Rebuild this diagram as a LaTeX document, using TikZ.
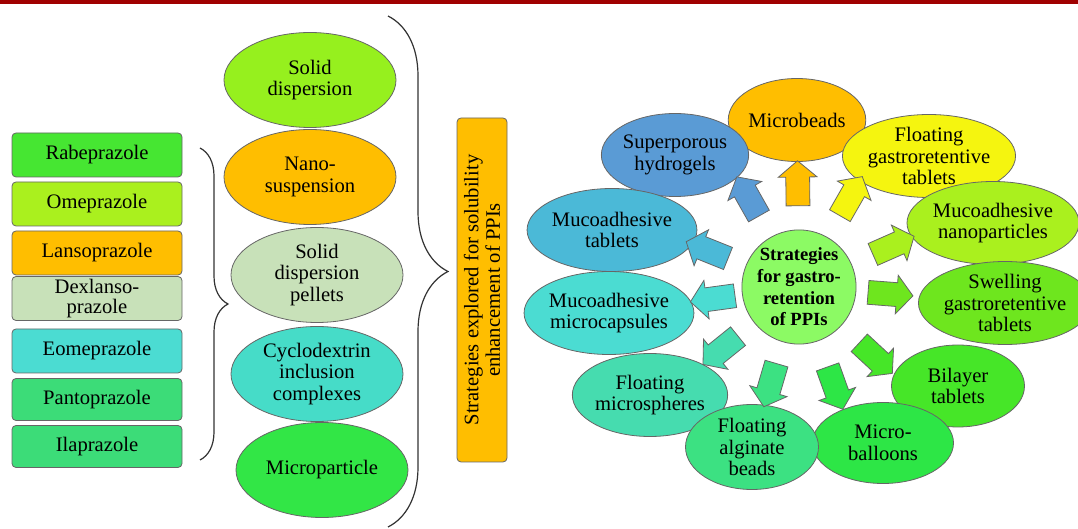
\documentclass[tikz,border=0pt]{standalone}
\usepackage{fontspec}
\setmainfont{Liberation Serif}
\newfontfamily\timesface{Liberation Serif}
\usetikzlibrary{positioning,shapes.geometric,shapes.arrows,decorations.pathreplacing}

\definecolor{topred}{RGB}{160,0,0}
\definecolor{rabeC}{RGB}{70,230,50}
\definecolor{omeC}{RGB}{170,240,30}
\definecolor{lansoC}{RGB}{255,190,0}
\definecolor{dexC}{RGB}{200,225,185}
\definecolor{eomeC}{RGB}{75,220,210}
\definecolor{pantoC}{RGB}{60,220,120}
\definecolor{sdC}{RGB}{150,240,30}
\definecolor{cdC}{RGB}{70,220,200}
\definecolor{mpC}{RGB}{50,230,70}
\definecolor{hubC}{RGB}{140,250,100}
\definecolor{shC}{RGB}{90,155,213}
\definecolor{fgC}{RGB}{245,245,15}
\definecolor{mtC}{RGB}{75,185,215}
\definecolor{sgC}{RGB}{110,230,30}
\definecolor{fmC}{RGB}{70,220,175}
\definecolor{faC}{RGB}{60,225,130}
\definecolor{mbaC}{RGB}{45,230,70}
\definecolor{blC}{RGB}{70,230,40}

\begin{document}
\begin{tikzpicture}[x=0.5pt,y=-0.5pt,font=\timesface\fontsize{10.3}{10.8}\selectfont,node distance=24.5pt]
\tikzstyle{drug} = [rectangle, rounded corners=2pt, draw=black!60,
    minimum width=85pt, minimum height=22pt, align=center, inner sep=0pt]
\tikzstyle{solub} = [ellipse, draw=black!60, minimum width=86pt,
    minimum height=47.5pt, align=center, inner sep=0pt]
\tikzstyle{gastro} = [ellipse, draw=black!60, minimum height=41.5pt,
    align=center, inner sep=0pt]
\tikzstyle{fatarrow} = [single arrow, draw=black!60, single arrow head extend=3.75pt,
    single arrow tip angle=100, minimum height=22.5pt,
    inner sep=0pt, sloped, allow upside down]
\tikzstyle{bracket} = [decorate, draw=black!80, line width=0.6pt]
\newcommand{\shaft}{\rule{0pt}{11.5pt}}

\useasboundingbox (0,0) rectangle (1078,529);
\fill[topred] (0,0) rectangle (1078,4);

\node[drug, fill=rabeC] (rabe) at (97,155) {Rabeprazole};
\node[drug, fill=omeC, below of=rabe] (ome) {Omeprazole};
\node[drug, fill=lansoC, below of=ome] (lanso) {Lansoprazole};
\node[drug, fill=dexC, below of=lanso, node distance=22.75pt] (dexlanso) {Dexlanso-\\[-1pt]prazole};
\node[drug, fill=eomeC, below of=dexlanso, node distance=26.25pt] (eome) {Eomeprazole};
\node[drug, fill=pantoC, below of=eome, node distance=24.25pt, minimum height=21pt] (panto) {Pantoprazole};
\node[drug, fill=pantoC, below of=panto, node distance=23.5pt, minimum height=21pt] (ila) {Ilaprazole};

\coordinate (lbtop) at (200,148);
\coordinate (lbbot) at (200,460);
\draw[bracket, decoration={brace, amplitude=14pt}] (lbtop) -- (lbbot);

\node[solub, fill=sdC] (sd) at (310,80) {Solid\\dispersion};
\node[solub, fill=lansoC, below of=sd, node distance=48.5pt] (ns) {Nano-\\suspension};
\node[solub, fill=dexC, below of=ns, node distance=49pt, xshift=3.5pt] (sdp) {Solid\\dispersion\\pellets};
\node[solub, fill=cdC, below of=sdp, node distance=49.5pt] (cd) {Cyclodextrin\\inclusion\\complexes};
\node[solub, fill=mpC, below of=cd, node distance=48pt, xshift=2.5pt] (mp) {Microparticle};

\coordinate (bbtop) at (388,16);
\coordinate (bbbot) at (388,527);
\draw[bracket, decoration={brace, amplitude=30pt}] (bbtop) -- (bbbot);

\node[rectangle, rounded corners=2pt, draw=black!60, fill=lansoC, rotate=90,
    minimum width=172pt, minimum height=25pt, align=center, inner sep=0pt]
    (solbox) at (482,290) {Strategies explored for solubility\\enhancement of PPIs};

\node[circle, draw=black!60, fill=hubC, minimum size=57pt, inner sep=0pt, align=center,
    font=\timesface\fontsize{9.3}{10.8}\selectfont\bfseries] (hub) at (799,287)
    {Strategies\\for gastro-\\retention\\of PPIs};

\node[gastro, fill=lansoC, minimum width=67.5pt] (mb) at (797,120) {Microbeads};
\node[gastro, fill=shC, minimum width=67pt] (sh) at (675,155) {Superporous\\hydrogels};
\node[gastro, fill=fgC, minimum width=76.5pt] (fg) at (929,156) {Floating\\gastroretentive\\tablets};
\node[gastro, fill=mtC, minimum width=76pt] (mt) at (612,230) {Mucoadhesive\\tablets};
\node[gastro, fill=omeC, minimum width=86pt] (mn) at (993,223) {Mucoadhesive\\nanoparticles};
\node[gastro, fill=sgC, minimum width=82.5pt] (sg) at (1005,303) {Swelling\\gastroretentive\\tablets};
\node[gastro, fill=eomeC, minimum width=76pt] (mc) at (609,313) {Mucoadhesive\\microcapsules};
\node[gastro, fill=fmC, minimum width=67pt] (fm) at (650,395) {Floating\\microspheres};
\node[gastro, fill=blC, minimum width=66.5pt, minimum height=41pt] (bl) at (958,386) {Bilayer\\tablets};
\node[gastro, fill=mbaC, minimum width=70.5pt, minimum height=40.5pt] (mba) at (883,443) {Micro-\\balloons};
\node[gastro, fill=faC, minimum width=66.5pt, minimum height=42.5pt] (fa) at (752,447) {Floating\\alginate\\beads};

\path (hub) -- (mb) node[fatarrow, fill=lansoC, pos=0.61] {\shaft};
\path (hub) -- (sh.-20) node[fatarrow, fill=shC, pos=0.61] {\shaft};
\path (hub) -- (fg.200) node[fatarrow, fill=fgC, pos=0.656] {\shaft};
\path (hub) -- (mt.-10) node[fatarrow, fill=mtC, pos=0.636] {\shaft};
\path (hub) -- (mn.190) node[fatarrow, fill=omeC, pos=0.62] {\shaft};
\path (hub) -- (mc) node[fatarrow, fill=eomeC, pos=0.48] {\shaft};
\path (hub) -- (sg) node[fatarrow, fill=sgC, pos=0.465] {\shaft};
\path (hub) -- (fm.30) node[fatarrow, fill=fmC, pos=0.584] {\shaft};
\path (hub) -- (fa) node[fatarrow, fill=faC, pos=0.61] {\shaft};
\path (hub) -- (mba.140) node[fatarrow, fill=mbaC, pos=0.62] {\shaft};
\path (hub) -- (bl.170) node[fatarrow, fill=blC, pos=0.59] {\shaft};

\end{tikzpicture}
\end{document}
